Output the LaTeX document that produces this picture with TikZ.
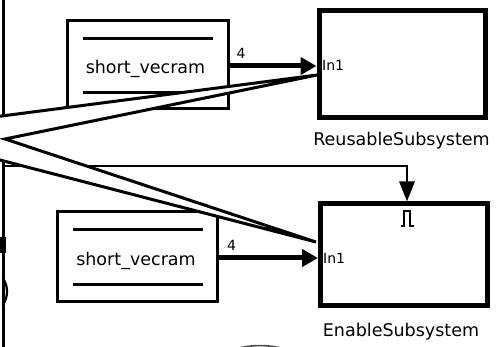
\documentclass[tikz,border=0pt]{standalone}
\usepackage{fontspec}
\setmainfont{DejaVu Sans}
\usetikzlibrary{arrows.meta}

\tikzset{
  srcblock/.style={draw, line width=3pt},
  subsys/.style={draw, line width=5pt},
  barline/.style={line width=3pt},
  sigline/.style={line width=5pt, -{Triangle[length=16pt,width=17pt]}},
  enline/.style={line width=2.8pt, -{Triangle[length=20pt,width=15pt]}},
  wedge/.style={line width=3pt, line join=miter},
  bigtxt/.style={inner sep=0pt, anchor=base, font=\fontsize{17.5}{20}\selectfont},
  smalltxt/.style={inner sep=0pt, font=\fontsize{14}{16}\selectfont},
}

\begin{document}
\begin{tikzpicture}[x=1pt, y=-1pt]
\path[use as bounding box] (0,0) rectangle (501,347);

% left border line with its marks
\draw[line width=3pt] (3.5,-2) -- (3.5,349);
\fill (0,237) rectangle (5.5,253);
\draw[line width=2.2pt] (2.5,278) .. controls (8.5,285) and (8.5,298) .. (2.5,305);

% upper ROM source block
\node[srcblock, minimum width=161pt, minimum height=88pt, inner sep=0pt] (romA) at (148,65) {};
\draw[barline] (83,38.5) -- (213,38.5);
\draw[barline] (83,92.5) -- (213,92.5);
\node[bigtxt] (romAtxt) at (145.5,74) {short\_vecram};

% lower ROM source block
\node[srcblock, minimum width=160pt, minimum height=89.5pt, inner sep=0pt] (romB) at (137.5,256.75) {};
\draw[barline] (73,230) -- (203,230);
\draw[barline] (73,284.3) -- (203,284.3);
\node[bigtxt] (romBtxt) at (136,265.7) {short\_vecram};

% subsystems
\node[subsys, minimum width=166.5pt, minimum height=107pt, inner sep=0pt] (reuse) at (402.25,64) {};
\node[subsys, minimum width=167pt, minimum height=101.5pt, inner sep=0pt] (enable) at (404,254.75) {};
\node[bigtxt] (reuseLbl) at (401.5,146) {ReusableSubsystem};
\node[bigtxt] (enableLbl) at (401,336.5) {EnableSubsystem};
\node[smalltxt, anchor=base west] (inA) at (322,71) {In1};
\node[smalltxt, anchor=base west] (inB) at (323,263.5) {In1};

% enable signal path
\coordinate (enStart) at (3,166);
\coordinate (enCorner) at (407,166);
\coordinate (enTip) at (407,201.5);
\draw[enline] (enStart) -- (enCorner) -- (enTip);

% pulse symbol of the enable port
\draw[line width=2.4pt] (400.5,226) -- (404,226) -- (404,211) -- (410,211) -- (410,226) -- (413.5,226);

% crossing wedges from the left border
\coordinate (wA) at (-2,116.5);
\coordinate (wB) at (317,75);
\coordinate (wC) at (5,139);
\coordinate (wD) at (316,242);
\coordinate (wE) at (-2,159.5);
\fill[white] (wA) -- (wB) -- (wC) -- (wD) -- (wE) -- cycle;
\draw[wedge] (wA) -- (wB) -- (wC) -- (wD) -- (wE);

% signal lines with width labels
\coordinate (outA) at (229,66);
\coordinate (tipA) at (316.5,66);
\coordinate (outB) at (218,258);
\coordinate (tipB) at (318,258);
\draw[sigline] (outA) -- (tipA);
\draw[sigline] (outB) -- (tipB);
\node[smalltxt, anchor=base] (wA4) at (241,58.5) {4};
\node[smalltxt, anchor=base] (wB4) at (231.5,251) {4};

% arc at the bottom edge
\draw[black!70, line width=1.6pt] (236,349) .. controls (249,344.5) and (271,344.5) .. (284,349);
\end{tikzpicture}
\end{document}
